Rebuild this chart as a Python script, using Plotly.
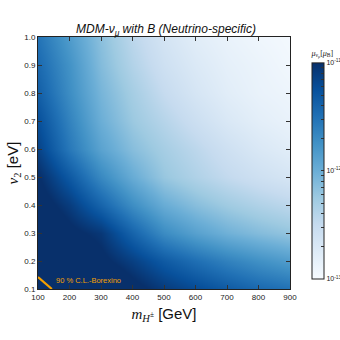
import math
import plotly.graph_objects as go

# Charged Higgs mass [GeV]
m_vals = [100, 200, 300, 400, 500, 600, 700, 800, 900]
# v2 [eV]
v_vals = [0.1, 0.2, 0.3, 0.4, 0.5, 0.6, 0.7, 0.8, 0.9, 1.0]
# log10 of mu_nu_mu [mu_B], rows = v_vals, cols = m_vals
log_mu = [
    [-10.20, -10.45, -10.70, -10.92, -11.08, -11.20, -11.32, -11.43, -11.50],
    [-10.45, -10.72, -10.94, -11.12, -11.32, -11.48, -11.62, -11.74, -11.84],
    [-10.72, -10.94, -11.06, -11.40, -11.70, -11.88, -12.02, -12.12, -12.20],
    [-10.88, -11.10, -11.40, -11.72, -11.98, -12.14, -12.26, -12.36, -12.44],
    [-10.98, -11.32, -11.68, -11.98, -12.22, -12.36, -12.48, -12.58, -12.66],
    [-11.14, -11.56, -11.90, -12.14, -12.30, -12.44, -12.58, -12.70, -12.78],
    [-11.24, -11.64, -12.00, -12.24, -12.40, -12.56, -12.70, -12.80, -12.86],
    [-11.36, -11.72, -12.06, -12.30, -12.50, -12.66, -12.78, -12.86, -12.90],
    [-11.44, -11.76, -12.12, -12.38, -12.58, -12.72, -12.82, -12.88, -12.94],
    [-11.52, -11.84, -12.16, -12.44, -12.64, -12.78, -12.86, -12.92, -12.96],
]
# Borexino 90% C.L. line
borexino_m = [100, 144]
borexino_v = [0.143, 0.1]

x_ticks = [100, 200, 300, 400, 500, 600, 700, 800, 900]
y_ticks = [0.1, 0.2, 0.3, 0.4, 0.5, 0.6, 0.7, 0.8, 0.9, 1.0]
y_ticktext = ["0.1", "0.2", "0.3", "0.4", "0.5", "0.6", "0.7", "0.8", "0.9", "1.0"]
cb_decades = [-13, -12, -11]
cb_decade_text = ["10<sup>-13</sup>", "10<sup>-12</sup>", "10<sup>-11</sup>"]

# colorbar ticks: decades labelled, minor log ticks unlabelled
cb_ticks, cb_text = [], []
for d, t in zip(cb_decades, cb_decade_text):
    cb_ticks.append(d)
    cb_text.append(t)
    if d < -11:
        for k in range(2, 10):
            cb_ticks.append(d + math.log10(k))
            cb_text.append("")

blues = [
    [0.0, "#f7fbff"], [0.125, "#deebf7"], [0.25, "#c6dbef"], [0.375, "#9ecae1"],
    [0.5, "#6baed6"], [0.625, "#4292c6"], [0.75, "#2171b5"], [0.875, "#08519c"],
    [1.0, "#08306b"],
]

L, R, T, B = 38, 50, 37, 51
W = H = 340
PW = W - L - R

fig = go.Figure()
fig.add_trace(go.Heatmap(
    x=m_vals, y=v_vals, z=log_mu, zmin=-13, zmax=-11, zsmooth="best",
    colorscale=blues, showscale=True, hoverinfo="skip",
    colorbar=dict(
        x=(302 - L) / PW, xanchor="left", y=0, yanchor="bottom", len=1, lenmode="fraction",
        thickness=12, outlinewidth=1, outlinecolor="#222",
        tickvals=cb_ticks, ticktext=cb_text, ticks="inside", ticklen=3, tickcolor="#333",
        tickfont=dict(size=7, color="#222", family="Liberation Sans"),
        title=dict(text="<i>μ</i><sub>ν<sub>μ</sub></sub>[<i>μ</i><sub>B</sub>]", side="top",
                   font=dict(size=8, family="Liberation Serif", color="#222")),
    ),
))
fig.add_trace(go.Scatter(
    x=borexino_m, y=borexino_v, mode="lines",
    line=dict(color="#f5a000", width=2.2), showlegend=False, hoverinfo="skip",
))
fig.add_annotation(x=152, y=0.131, text="90 % C.L.-Borexino", showarrow=False,
                   xanchor="left", yanchor="middle",
                   font=dict(size=7.5, color="#f5a000", family="Liberation Sans"))

axis_common = dict(showgrid=False, zeroline=False, ticks="inside", ticklen=4,
                   mirror="ticks", showline=True, linecolor="#222", linewidth=1,
                   tickcolor="#333",
                   tickfont=dict(size=8, color="#222", family="Liberation Sans"))
fig.update_xaxes(range=[100, 900], tickvals=x_ticks,
                 title=dict(text='<span style="font-family:Liberation Serif"><i>m</i><sub><i>H</i><sup>±</sup></sub></span> [GeV]',
                            standoff=7,
                            font=dict(size=15, family="Liberation Sans", color="#111")),
                 **axis_common)
fig.update_yaxes(range=[0.1, 1.0], tickvals=y_ticks, ticktext=y_ticktext,
                 title=dict(text='<span style="font-family:Liberation Serif"><i>v</i><sub>2</sub></span> [eV]',
                            standoff=2,
                            font=dict(size=15, family="Liberation Sans", color="#111")),
                 **axis_common)

fig.update_layout(
    width=W, height=H,
    margin=dict(l=L, r=R, t=T, b=B, autoexpand=False),
    paper_bgcolor="white", plot_bgcolor="white",
    title=dict(text="<i>MDM-ν<sub>μ</sub> with B (Neutrino-specific)</i>",
               x=166 / W, xanchor="center", y=1 - 29 / H, yanchor="middle",
               font=dict(size=12, family="Liberation Sans", color="#111")),
    showlegend=False,
)
fig.write_html("out.html", config={"displayModeBar": False},
               post_script="document.body.style.margin='0px';document.body.style.padding='0px';")
